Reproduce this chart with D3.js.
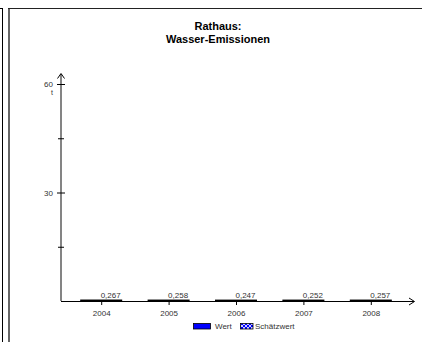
<!DOCTYPE html>
<html><head><meta charset="utf-8">
<script src="https://cdn.jsdelivr.net/npm/d3@7"></script>
<style>html,body{margin:0;background:#fff;overflow:hidden}svg{display:block;font-family:"Liberation Sans",Arial,sans-serif}</style>
</head><body>
<script>
const titleLines = ["Rathaus:", "Wasser-Emissionen"];
const years = ["2004", "2005", "2006", "2007", "2008"];
const wert = [0.267, 0.258, 0.247, 0.252, 0.257];
const schaetzwert = [0, 0, 0, 0, 0];
const valueLabels = ["0,267", "0,258", "0,247", "0,252", "0,257"];
const yTicks = [0, 15, 30, 45, 60];
const yTickLabels = {30: "30", 60: "60"};
const unit = "t";
const legendItems = ["Wert", "Schätzwert"];

const W = 422, H = 342;
const svg = d3.select("body").append("svg").attr("width", W).attr("height", H);
const defs = svg.append("defs");
const pat = defs.append("pattern").attr("id", "hatch").attr("patternUnits", "userSpaceOnUse")
  .attr("width", 4).attr("height", 4);
pat.append("rect").attr("width", 4).attr("height", 4).attr("fill", "#0000ff");
pat.append("path").attr("d", "M0,0L4,4M4,0L0,4").attr("stroke", "#fff").attr("stroke-width", 0.8);

// frames
svg.append("line").attr("x1", 2.5).attr("x2", 2.5).attr("y1", 8).attr("y2", H).attr("stroke", "#000");
svg.append("line").attr("x1", 0).attr("x2", 2.5).attr("y1", 8.5).attr("y2", 8.5).attr("stroke", "#000");
svg.append("line").attr("x1", 9).attr("x2", 9).attr("y1", 8).attr("y2", H).attr("stroke", "#666").attr("stroke-width", 2);
svg.append("line").attr("x1", 8).attr("x2", W).attr("y1", 8.5).attr("y2", 8.5).attr("stroke", "#222");

// title
svg.append("text").attr("x", 218).attr("y", 30).attr("text-anchor", "middle")
  .attr("font-size", 11).attr("font-weight", "bold").selectAll("tspan").data(titleLines).join("tspan")
  .attr("x", 218).attr("dy", (d, i) => i ? 13 : 0).text(d => d);

const x = d3.scaleBand().domain(years).range([68, 405]);
const y = d3.scaleLinear().domain([0, 60]).range([301, 84]);
const cx = d => x(d) + x.bandwidth() / 2;

// y axis
svg.append("line").attr("x1", 61).attr("x2", 61).attr("y1", 74).attr("y2", 301)
  .attr("stroke", "#777").attr("stroke-width", 1.8);
svg.append("path").attr("d", "M57.5,78.5L61,73.5L64.5,78.5").attr("fill", "none").attr("stroke", "#000");
const yAxis = svg.append("g").attr("transform", "translate(61,0)")
  .call(d3.axisLeft(y).tickValues(yTicks).tickSize(0).tickPadding(8).tickFormat(d => yTickLabels[d] || ""));
yAxis.select(".domain").remove();
yAxis.selectAll(".tick").filter(d => d === 0).remove();
yAxis.selectAll(".tick line").attr("x1", d => yTickLabels[d] ? -4 : -3).attr("x2", d => yTickLabels[d] ? 4 : 3).attr("stroke", "#000");
yAxis.selectAll(".tick text").attr("font-size", 8).attr("fill", "#333").attr("font-family", "Liberation Sans, Arial, sans-serif");
svg.append("text").attr("x", 53).attr("y", y(60) + 11).attr("text-anchor", "end")
  .attr("font-size", 7).attr("fill", "#333").text(unit);

// bars
const bw = 41;
svg.append("g").selectAll("rect").data(years).join("rect")
  .attr("x", d => cx(d) - 21).attr("width", bw)
  .attr("y", (d, i) => y(wert[i]))
  .attr("height", (d, i) => y(0) - y(wert[i]))
  .attr("fill", "#0000ff").attr("stroke", "#000").attr("stroke-width", 1);
svg.append("g").selectAll("text").data(years).join("text")
  .attr("x", d => cx(d) + 19).attr("y", (d, i) => y(wert[i] + schaetzwert[i]) - 2.5)
  .attr("text-anchor", "end").attr("font-size", 8).attr("fill", "#333")
  .text((d, i) => valueLabels[i]);

// x axis
const xAxis = svg.append("g").attr("transform", "translate(0,301)")
  .call(d3.axisBottom(x).tickSize(4).tickPadding(5));
xAxis.select(".domain").remove();
xAxis.selectAll(".tick line").attr("stroke", "#000");
xAxis.selectAll(".tick text").attr("font-size", 8).attr("fill", "#333").attr("font-family", "Liberation Sans, Arial, sans-serif");
svg.append("line").attr("x1", 61).attr("x2", 414).attr("y1", 301.5).attr("y2", 301.5).attr("stroke", "#000");
svg.append("path").attr("d", "M409,298L414.5,301.5L409,305").attr("fill", "none").attr("stroke", "#000");

// legend
const lg = svg.append("g").attr("font-size", 8).attr("fill", "#333");
lg.append("rect").attr("x", 193.5).attr("y", 323.5).attr("width", 17).attr("height", 5.5)
  .attr("fill", "#0000ff").attr("stroke", "#000").attr("stroke-width", 0.8);
lg.append("text").attr("x", 215).attr("y", 329).text(legendItems[0]);
lg.append("rect").attr("x", 240.5).attr("y", 323.5).attr("width", 12.5).attr("height", 5.5)
  .attr("fill", "url(#hatch)").attr("stroke", "#000").attr("stroke-width", 0.8);
lg.append("text").attr("x", 255).attr("y", 329).text(legendItems[1]);
</script>
</body></html>
